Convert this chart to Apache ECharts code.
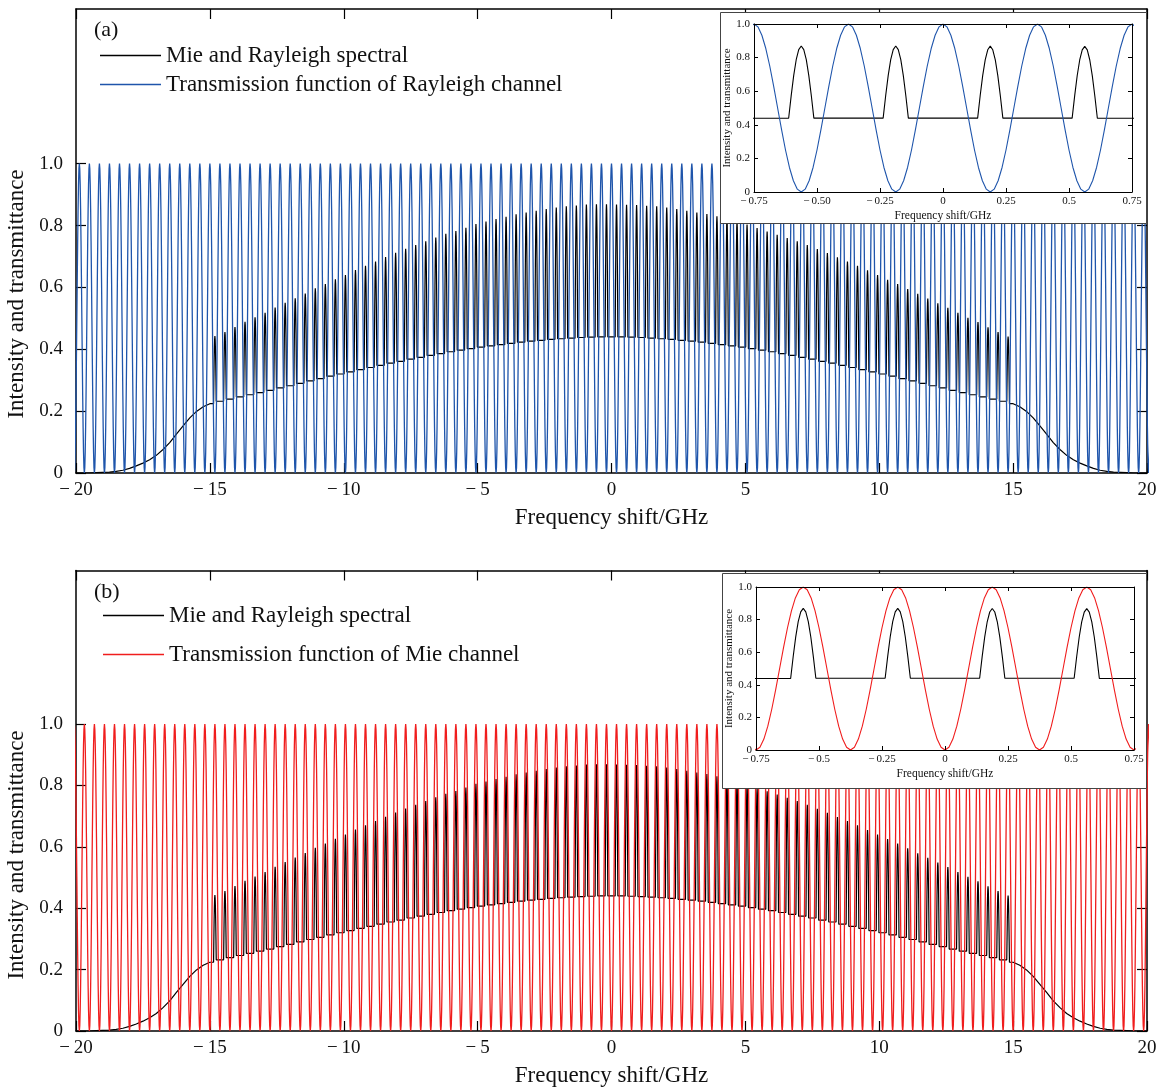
<!DOCTYPE html>
<html>
<head>
<meta charset="utf-8">
<script src="https://cdn.jsdelivr.net/npm/echarts@6/dist/echarts.min.js"></script>
<style>
  html, body { margin: 0; padding: 0; background: #fff; }
  #chart { width: 1165px; height: 1088px; }
</style>
</head>
<body>
<div id="chart"></div>
<script>
// fringe spacing of both channels, GHz
const fringePeriod = 0.375;
// one fringe of each transmission function (24 samples per fringe)
const rayleighFringe = [1, 0.983, 0.933, 0.854, 0.75, 0.629, 0.5, 0.371, 0.25, 0.146, 0.067, 0.017,
  0, 0.017, 0.067, 0.146, 0.25, 0.371, 0.5, 0.629, 0.75, 0.854, 0.933, 0.983];
const mieFringe = [0, 0.017, 0.067, 0.146, 0.25, 0.371, 0.5, 0.629, 0.75, 0.854, 0.933, 0.983,
  1, 0.983, 0.933, 0.854, 0.75, 0.629, 0.5, 0.371, 0.25, 0.146, 0.067, 0.017];
// Mie peak profile: offset from the peak centre (GHz) and relative height
const miePeakOffset = [-0.05, -0.04, -0.03, -0.02, -0.01, 0, 0.01, 0.02, 0.03, 0.04, 0.05];
const miePeakShape = [0, 0.31, 0.59, 0.81, 0.95, 1, 0.95, 0.81, 0.59, 0.31, 0];
// Rayleigh background at each fringe edge, -15 ... 15 GHz
const rayleighLevel = [
  0.224, 0.232, 0.239, 0.246, 0.253, 0.260, 0.267, 0.275, 0.282, 0.290,
  0.298, 0.305, 0.313, 0.320, 0.327, 0.334, 0.341, 0.348, 0.355, 0.361,
  0.368, 0.374, 0.380, 0.386, 0.392, 0.397, 0.402, 0.407, 0.411, 0.415,
  0.419, 0.423, 0.426, 0.429, 0.432, 0.434, 0.436, 0.438, 0.439, 0.440,
  0.440,
  0.440, 0.439, 0.438, 0.436, 0.434, 0.432, 0.429, 0.426, 0.423, 0.419,
  0.415, 0.411, 0.407, 0.402, 0.397, 0.392, 0.386, 0.380, 0.374, 0.368,
  0.361, 0.355, 0.348, 0.341, 0.334, 0.327, 0.320, 0.313, 0.305, 0.298,
  0.290, 0.282, 0.275, 0.267, 0.260, 0.253, 0.246, 0.239, 0.232, 0.224
];
// top of every Mie peak, -14.8125 ... 14.8125 GHz
const miePeakTop = [
  0.443, 0.456, 0.472, 0.489, 0.503, 0.518, 0.535, 0.550, 0.565, 0.580,
  0.597, 0.611, 0.626, 0.640, 0.656, 0.670, 0.684, 0.698, 0.712, 0.725,
  0.737, 0.749, 0.761, 0.773, 0.782, 0.793, 0.805, 0.813, 0.821, 0.828,
  0.836, 0.842, 0.848, 0.853, 0.858, 0.862, 0.865, 0.868, 0.869, 0.869,
  0.868, 0.867, 0.866, 0.864, 0.862, 0.858, 0.853, 0.848, 0.842, 0.837,
  0.830, 0.821, 0.813, 0.803, 0.792, 0.781, 0.770, 0.760, 0.749, 0.737,
  0.724, 0.711, 0.697, 0.684, 0.670, 0.655, 0.640, 0.625, 0.611, 0.595,
  0.579, 0.564, 0.549, 0.534, 0.518, 0.502, 0.488, 0.471, 0.456, 0.441
];
// Rayleigh wing beyond |15| GHz: distance past 15 GHz and level
const wingOffset = [5, 4.75, 4.5, 4.25, 4, 3.75, 3.5, 3.25, 3, 2.75, 2.5, 2.25, 2, 1.75, 1.5, 1.25, 1, 0.75, 0.5, 0.25, 0];
const wingLevel = [0, 0, 0, 0.001, 0.002, 0.003, 0.005, 0.009, 0.015, 0.023, 0.032, 0.043,
  0.057, 0.076, 0.098, 0.126, 0.152, 0.178, 0.199, 0.214, 0.224];

const mainTicks = ['\u2212\u200920', '\u2212\u200915', '\u2212\u200910', '\u2212\u20095', '0', '5', '10', '15', '20'];
const insetTicksA = ['\u2212\u20090.75', '\u2212\u20090.50', '\u2212\u20090.25', '0', '0.25', '0.5', '0.75'];
const insetTicksB = ['\u2212\u20090.75', '\u2212\u20090.5', '\u2212\u20090.25', '0', '0.25', '0.5', '0.75'];
const yTicks = [0, 0.2, 0.4, 0.6, 0.8, 1.0];

const FONT = 'Liberation Serif';
const BLUE = '#1f55ab';
const RED = '#f01d1d';
const S1 = 'Mie and Rayleigh spectral';
const S2a = 'Transmission function of Rayleigh channel';
const S2b = 'Transmission function of Mie channel';

function buildSpectrum() {
  const pts = [];
  wingOffset.forEach((d, i) => pts.push([-15 - d, wingLevel[i]]));
  for (let j = 0; j < miePeakTop.length; j++) {
    const x0 = -15 + j * fringePeriod;
    const c = x0 + fringePeriod / 2;
    const b0 = rayleighLevel[j];
    const b1 = rayleighLevel[j + 1];
    if (j > 0) pts.push([x0, b0]);
    miePeakOffset.forEach((dx, i) => {
      const base = dx < 0 ? b0 : dx > 0 ? b1 : (b0 + b1) / 2;
      pts.push([c + dx, base + (miePeakTop[j] - base) * miePeakShape[i]]);
    });
  }
  pts.push([15, rayleighLevel[rayleighLevel.length - 1]]);
  for (let i = wingOffset.length - 2; i >= 0; i--) pts.push([15 + wingOffset[i], wingLevel[i]]);
  return pts;
}

function buildChannel(fringe) {
  const pts = [];
  const step = fringePeriod / fringe.length;
  for (let k = -54; k < 54; k++) {
    fringe.forEach((v, i) => pts.push([k * fringePeriod + i * step, v]));
  }
  pts.push([54 * fringePeriod, fringe[0]]);
  return pts;
}

const spectrum = buildSpectrum();
const rayleighChannel = buildChannel(rayleighFringe);
const mieChannel = buildChannel(mieFringe);

const numFmt = v => (v === 0 ? '0' : v.toFixed(1));

function mainAxes(grid) {
  const line = { show: true, onZero: false, lineStyle: { color: '#000', width: 1.5 } };
  const tick = { show: true, inside: true, length: 10, lineStyle: { color: '#000', width: 1.2 } };
  return {
    x: [
      {
        type: 'value', gridIndex: grid, min: -20, max: 20, interval: 5, position: 'bottom',
        axisLine: line, axisTick: tick, splitLine: { show: false },
        axisLabel: {
          margin: 8, fontFamily: FONT, fontSize: 19, color: '#111',
          formatter: v => mainTicks[Math.round((v + 20) / 5)]
        },
        name: 'Frequency shift/GHz', nameLocation: 'middle', nameGap: 33,
        nameTextStyle: { fontFamily: FONT, fontSize: 23, color: '#111' }
      },
      {
        type: 'value', gridIndex: grid, min: -20, max: 20, interval: 5, position: 'top',
        axisLine: line, axisTick: tick, axisLabel: { show: false }, splitLine: { show: false }
      }
    ],
    y: [
      {
        type: 'value', gridIndex: grid, min: 0, max: 1.5, position: 'left',
        axisLine: line, splitLine: { show: false },
        axisTick: Object.assign({ customValues: yTicks }, tick),
        axisLabel: {
          customValues: yTicks, margin: 13, fontFamily: FONT, fontSize: 19, color: '#111',
          formatter: numFmt
        }
      },
      {
        type: 'value', gridIndex: grid, min: 0, max: 1.5, position: 'right',
        axisLine: line, splitLine: { show: false },
        axisTick: Object.assign({ customValues: yTicks }, tick),
        axisLabel: { show: false }
      }
    ]
  };
}

function insetAxes(grid, labels) {
  const line = { show: true, onZero: false, lineStyle: { color: '#000', width: 1 } };
  const tick = { show: true, inside: true, length: 4, lineStyle: { color: '#000', width: 1 } };
  return {
    x: [
      {
        type: 'value', gridIndex: grid, min: -0.75, max: 0.75, interval: 0.25, position: 'bottom', z: 12,
        axisLine: line, axisTick: tick, splitLine: { show: false },
        axisLabel: {
          margin: 4, fontFamily: FONT, fontSize: 11, color: '#111',
          formatter: v => labels[Math.round((v + 0.75) / 0.25)]
        },
        name: 'Frequency shift/GHz', nameLocation: 'middle', nameGap: 18,
        nameTextStyle: { fontFamily: FONT, fontSize: 11.5, color: '#111' }
      },
      {
        type: 'value', gridIndex: grid, min: -0.75, max: 0.75, interval: 0.25, position: 'top', z: 12,
        axisLine: line, axisTick: tick, axisLabel: { show: false }, splitLine: { show: false }
      }
    ],
    y: [
      {
        type: 'value', gridIndex: grid, min: 0, max: 1, interval: 0.2, position: 'left', z: 12,
        axisLine: line, axisTick: tick, splitLine: { show: false },
        axisLabel: { margin: 4, fontFamily: FONT, fontSize: 11, color: '#111', formatter: numFmt },
        name: 'Intensity and transmittance', nameLocation: 'middle', nameGap: 21, nameRotate: 90,
        nameTextStyle: { fontFamily: FONT, fontSize: 11, color: '#111' }
      },
      {
        type: 'value', gridIndex: grid, min: 0, max: 1, interval: 0.2, position: 'right', z: 12,
        axisLine: line, axisTick: tick, axisLabel: { show: false }, splitLine: { show: false }
      }
    ]
  };
}

const axA = mainAxes(0), axB = mainAxes(1), inA = insetAxes(2, insetTicksA), inB = insetAxes(3, insetTicksB);

function lineSeries(name, data, color, width, xi, yi, z) {
  return {
    type: 'line', name, data, xAxisIndex: xi, yAxisIndex: yi, z,
    showSymbol: false, symbol: 'none', silent: true, clip: true,
    lineStyle: { color, width }, itemStyle: { color }
  };
}

const legendBase = {
  orient: 'vertical', icon: 'rect', itemWidth: 61, itemHeight: 1.3, padding: 0, selectedMode: false,
  textStyle: { fontFamily: FONT, fontSize: 23, color: '#111', lineHeight: 22 }
};

const option = {
  animation: false,
  backgroundColor: '#fff',
  grid: [
    { left: 76, top: 9, width: 1071, height: 464 },
    { left: 76, top: 570.5, width: 1071, height: 464 },
    { left: 754, top: 24, width: 378, height: 168 },
    { left: 756, top: 587, width: 378, height: 163 }
  ],
  xAxis: [...axA.x, ...axB.x, ...inA.x, ...inB.x],
  yAxis: [...axA.y, ...axB.y, ...inA.y, ...inB.y],
  legend: [
    Object.assign({ left: 100, top: 44, itemGap: 6, data: [S1, S2a] }, legendBase),
    Object.assign({ left: 103, top: 604, itemGap: 16, data: [S1, S2b] }, legendBase)
  ],
  graphic: [
    { type: 'rect', z: 5, shape: { x: 720.5, y: 12.5, width: 426, height: 211 },
      style: { fill: '#fff', stroke: '#444', lineWidth: 1 } },
    { type: 'rect', z: 5, shape: { x: 722.5, y: 573.5, width: 424, height: 215 },
      style: { fill: '#fff', stroke: '#444', lineWidth: 1 } },
    { type: 'text', z: 6, x: 94, y: 19, style: { text: '(a)', font: '22px "Liberation Serif"', fill: '#111' } },
    { type: 'text', z: 6, x: 94, y: 581, style: { text: '(b)', font: '22px "Liberation Serif"', fill: '#111' } },
    { type: 'text', z: 6, x: 17, y: 294, rotation: Math.PI / 2,
      style: { text: 'Intensity and transmittance', font: '23px "Liberation Serif"', fill: '#111',
        align: 'center', verticalAlign: 'middle' } },
    { type: 'text', z: 6, x: 17, y: 855, rotation: Math.PI / 2,
      style: { text: 'Intensity and transmittance', font: '23px "Liberation Serif"', fill: '#111',
        align: 'center', verticalAlign: 'middle' } }
  ],
  series: [
    lineSeries(S1, spectrum, '#000', 1.2, 0, 0, 2),
    lineSeries(S2a, rayleighChannel, BLUE, 1.3, 0, 0, 3),
    lineSeries(S1, spectrum, '#000', 1.2, 2, 2, 2),
    lineSeries(S2b, mieChannel, RED, 1.3, 2, 2, 3),
    lineSeries(S1, spectrum, '#000', 1.1, 4, 4, 10),
    lineSeries(S2a, rayleighChannel, BLUE, 1.1, 4, 4, 11),
    lineSeries(S1, spectrum, '#000', 1.1, 6, 6, 10),
    lineSeries(S2b, mieChannel, RED, 1.1, 6, 6, 11)
  ]
};

const chart = echarts.init(document.getElementById('chart'), null, { renderer: 'canvas' });
chart.setOption(option);
</script>
</body>
</html>
